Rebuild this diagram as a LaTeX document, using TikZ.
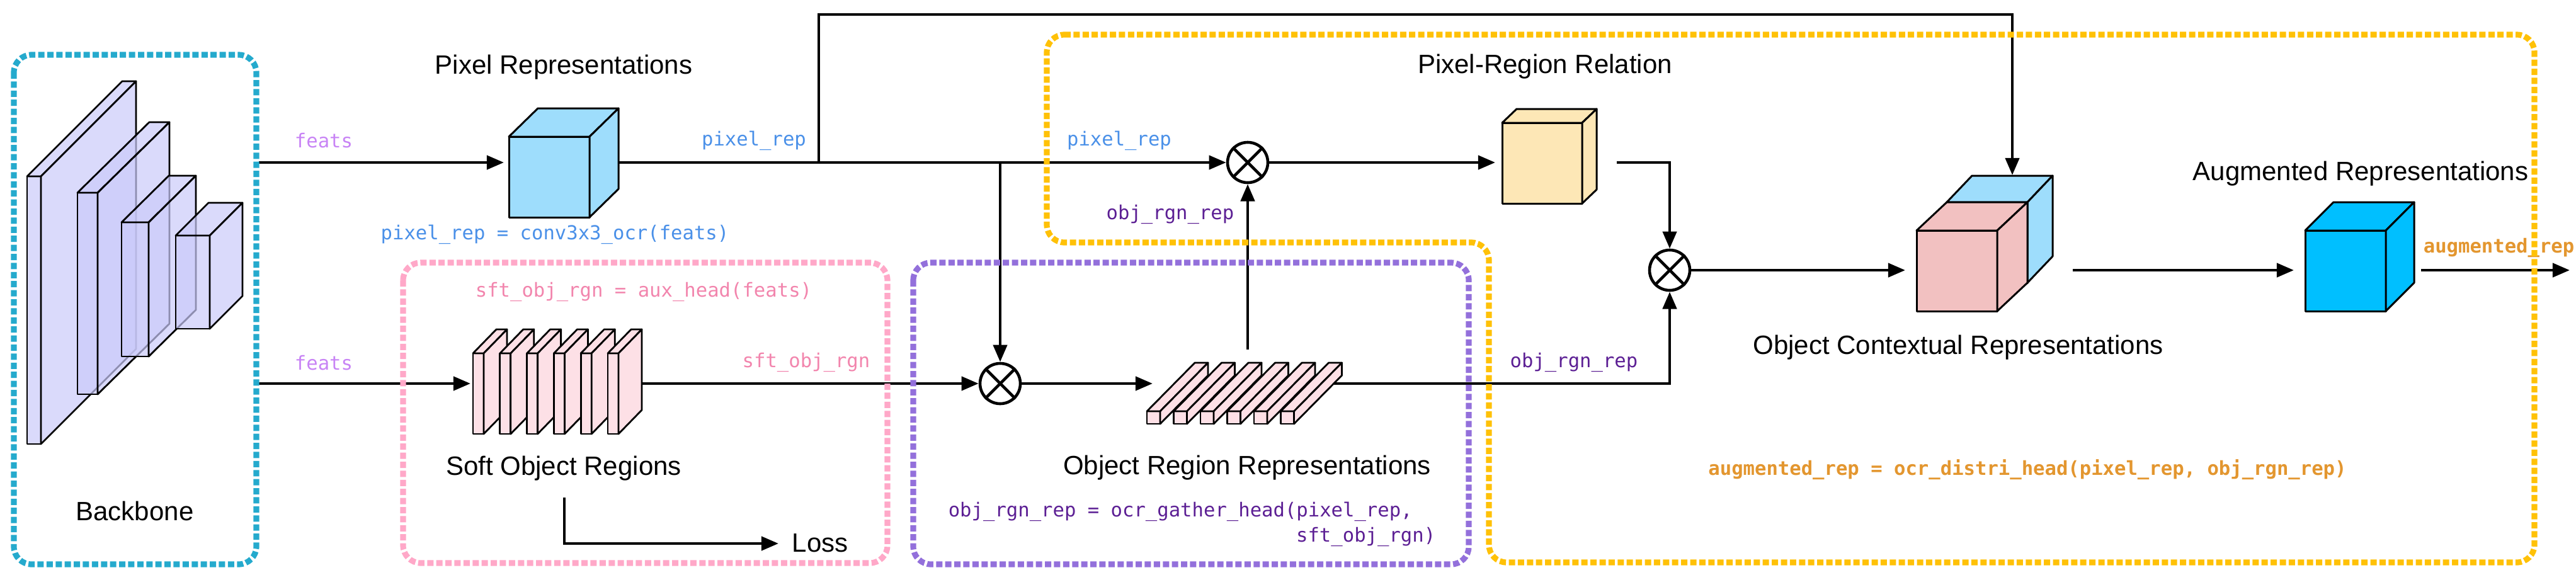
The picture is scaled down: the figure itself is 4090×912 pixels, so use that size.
\documentclass[tikz,border=0pt]{standalone}
\usepackage{fontspec}
\setmainfont{Liberation Sans}
\newfontfamily\codefont{DejaVu Sans Mono}
\usetikzlibrary{arrows.meta}

\definecolor{cyanbox}{RGB}{37,170,205}
\definecolor{pinkbox}{RGB}{255,168,200}
\definecolor{purplebox}{RGB}{147,112,219}
\definecolor{yellowbox}{RGB}{255,193,7}
\definecolor{slabfill}{RGB}{202,202,250}
\definecolor{pixcube}{RGB}{158,221,252}
\definecolor{relcube}{RGB}{253,231,182}
\definecolor{ctxpink}{RGB}{242,193,193}
\definecolor{augcube}{RGB}{0,191,255}
\definecolor{softfill}{RGB}{253,224,230}
\definecolor{featc}{RGB}{200,132,245}
\definecolor{pixc}{RGB}{74,144,232}
\definecolor{sftc}{RGB}{242,133,173}
\definecolor{objc}{RGB}{92,31,148}
\definecolor{augc}{RGB}{227,150,47}

% x y w h dx dy style   (pixel coordinates, y downwards)
\newcommand{\mycube}[7]{%
  \filldraw[#7] ({#1},{#2}) rectangle ({#1+#3},{#2+#4});
  \filldraw[#7] ({#1},{#2}) -- ({#1+#5},{#2-#6}) -- ({#1+#3+#5},{#2-#6}) -- ({#1+#3},{#2}) -- cycle;
  \filldraw[#7] ({#1+#3},{#2}) -- ({#1+#3+#5},{#2-#6}) -- ({#1+#3+#5},{#2+#4-#6}) -- ({#1+#3},{#2+#4}) -- cycle;
}

\tikzset{
  conn/.style={line width=1.15pt, line join=miter},
  arr/.style={conn, -{Triangle[length=6.8pt,width=5.5pt]}},
  dbox/.style={line width=2.3pt, dash pattern=on 2.5pt off 1.1pt, rounded corners=7pt},
  otimes/.style={circle, draw, line width=1.15pt, minimum size=16pt, inner sep=0pt},
  lbl/.style={font=\fontsize{10.5pt}{12.6pt}\selectfont, inner sep=0pt},
  code/.style={font=\codefont\fontsize{7.65pt}{10pt}\selectfont, inner sep=0pt},
  bbslab/.style={fill=slabfill, fill opacity=0.7, draw=black, line width=0.7pt, line join=round},
  softslab/.style={fill=softfill, draw=black, line width=0.7pt, line join=round},
  cubeA/.style={fill=pixcube, draw=black, line width=0.75pt, line join=round},
  cubeB/.style={fill=relcube, draw=black, line width=0.75pt, line join=round},
  cubeC/.style={fill=ctxpink, draw=black, line width=0.75pt, line join=round},
  cubeD/.style={fill=augcube, draw=black, line width=0.75pt, line join=round},
}

\begin{document}
\begin{tikzpicture}[x=0.25pt,y=-0.25pt]
\useasboundingbox (0,0) rectangle (4090,912);

% ---------- backbone slabs ----------
\mycube{43}{280}{22}{425}{151}{151}{bbslab}
\mycube{123}{306}{32}{320}{114}{112}{bbslab}
\mycube{193}{353}{43}{213}{75}{74}{bbslab}
\mycube{279}{374}{54}{148}{52}{52}{bbslab}

% ---------- cubes ----------
\mycube{808}{217}{128}{128}{46}{45}{cubeA}
\mycube{2385}{195}{127}{128}{23}{22}{cubeB}
\mycube{3091}{321}{128}{128}{40}{42}{cubeA}
\mycube{3043}{366}{128}{128}{48}{45}{cubeC}
\mycube{3660}{366}{128}{128}{45}{45}{cubeD}

% ---------- soft object slabs ----------
\foreach \i in {0,...,5} {\mycube{751+42.8*\i}{561}{17}{128}{37}{38}{softslab}}

% ---------- object region bars ----------
\foreach \i in {0,...,5} {\mycube{1821+42.5*\i}{653}{21}{20}{76}{77}{softslab}}

% ---------- operators ----------
\node[otimes] (m1) at (1588,609) {};
\node[otimes] (m2) at (1981,258) {};
\node[otimes] (m3) at (2651,429) {};
\foreach \m in {m1,m2,m3} {
  \draw[line width=1.15pt] (\m.45) -- (\m.225) (\m.135) -- (\m.315);
}

% ---------- connector end points ----------
\coordinate (bb-top) at (411,258);
\coordinate (bb-bot) at (407,609);
\coordinate (pc-in) at (800,258);
\coordinate (pc-out) at (982,258);
\coordinate (so-in) at (747,609);
\coordinate (so-out) at (1019,609);
\coordinate (br-pix) at (1300,258);
\coordinate (br-down) at (1588,258);
\coordinate (loop-l) at (1300,23);
\coordinate (loop-r) at (3195,23);
\coordinate (ctx-top) at (3195,278);
\coordinate (bars-in) at (1830,609);
\coordinate (bars-out) at (2118,609);
\coordinate (bars-up) at (1981,555);
\coordinate (obj-corner) at (2651,609);
\coordinate (rel-in) at (2374,258);
\coordinate (rel-out) at (2567,258);
\coordinate (rel-corner) at (2651,258);
\coordinate (ctx-in) at (3025,429);
\coordinate (ctx-out) at (3291,429);
\coordinate (aug-in) at (3642,429);
\coordinate (aug-out) at (3844,429);
\coordinate (aug-end) at (4080,429);
\coordinate (loss-a) at (896,790);
\coordinate (loss-b) at (896,863);
\coordinate (loss-c) at (1236,863);

% ---------- connectors ----------
\draw[arr] (bb-top) -- (pc-in);
\draw[arr] (bb-bot) -- (so-in);
\draw[arr] (pc-out) -- (m2.west);
\draw[arr] (br-pix) -- (loop-l) -- (loop-r) -- (ctx-top);
\draw[arr] (br-down) -- (m1.north);
\draw[arr] (so-out) -- (m1.west);
\draw[arr] (m1.east) -- (bars-in);
\draw[arr] (bars-out) -- (obj-corner) -- (m3.south);
\draw[arr] (bars-up) -- (m2.south);
\draw[arr] (m2.east) -- (rel-in);
\draw[arr] (rel-out) -- (rel-corner) -- (m3.north);
\draw[arr] (m3.east) -- (ctx-in);
\draw[arr] (ctx-out) -- (aug-in);
\draw[arr] (aug-out) -- (aug-end);
\draw[arr] (loss-a) -- (loss-b) -- (loss-c);

% ---------- labels ----------
\node[lbl] (t-backbone) at (214,811) {Backbone};
\node[lbl] (t-pixrep) at (895,107) {Pixel Representations};
\node[lbl] (t-prr) at (2453,106) {Pixel-Region Relation};
\node[lbl] (t-sor) at (895,744) {Soft Object Regions};
\node[lbl] (t-orr) at (1980,743) {Object Region Representations};
\node[lbl] (t-ocr) at (3109,552) {Object Contextual Representations};
\node[lbl] (t-aug) at (3748,276) {Augmented Representations};
\node[lbl,anchor=west] (t-loss) at (1257,862) {Loss};

\node[code,text=featc] (c-feats1) at (514,223) {feats};
\node[code,text=featc] (c-feats2) at (514,576) {feats};
\node[code,text=pixc] (c-pix1) at (1197,223) {pixel\_rep};
\node[code,text=pixc] (c-pix2) at (1777,223) {pixel\_rep};
\node[code,text=pixc] (c-pixf) at (881,372) {pixel\_rep = conv3x3\_ocr(feats)};
\node[code,text=sftc] (c-sftf) at (1022,463) {sft\_obj\_rgn = aux\_head(feats)};
\node[code,text=sftc] (c-sft) at (1280,575) {sft\_obj\_rgn};
\node[code,text=objc] (c-obj1) at (1858,340) {obj\_rgn\_rep};
\node[code,text=objc] (c-obj2) at (2499,575) {obj\_rgn\_rep};
\node[code,text=objc,anchor=west] (c-objf1) at (1505,812) {obj\_rgn\_rep = ocr\_gather\_head(pixel\_rep,};
\node[code,text=objc,anchor=east] (c-objf2) at (2280,852) {sft\_obj\_rgn)};
\node[code,text=augc,font=\codefont\bfseries\fontsize{7.65pt}{10pt}\selectfont] (c-augf) at (3219,746) {augmented\_rep = ocr\_distri\_head(pixel\_rep, obj\_rgn\_rep)};
\node[code,text=augc,font=\codefont\bfseries\fontsize{7.65pt}{10pt}\selectfont,anchor=west] (c-aug) at (3847,393) {augmented\_rep};

% ---------- dashed group boxes ----------
\draw[dbox,draw=cyanbox] (22,87) rectangle (407,896);
\draw[dbox,draw=pinkbox] (640,417) rectangle (1409,894);
\draw[dbox,draw=purplebox] (1450,417) rectangle (2332,896);
\draw[dbox,draw=yellowbox] (1662,55) -- (4024,55) -- (4024,893) -- (2364,893) -- (2364,385) -- (1662,385) -- cycle;
\end{tikzpicture}
\end{document}
